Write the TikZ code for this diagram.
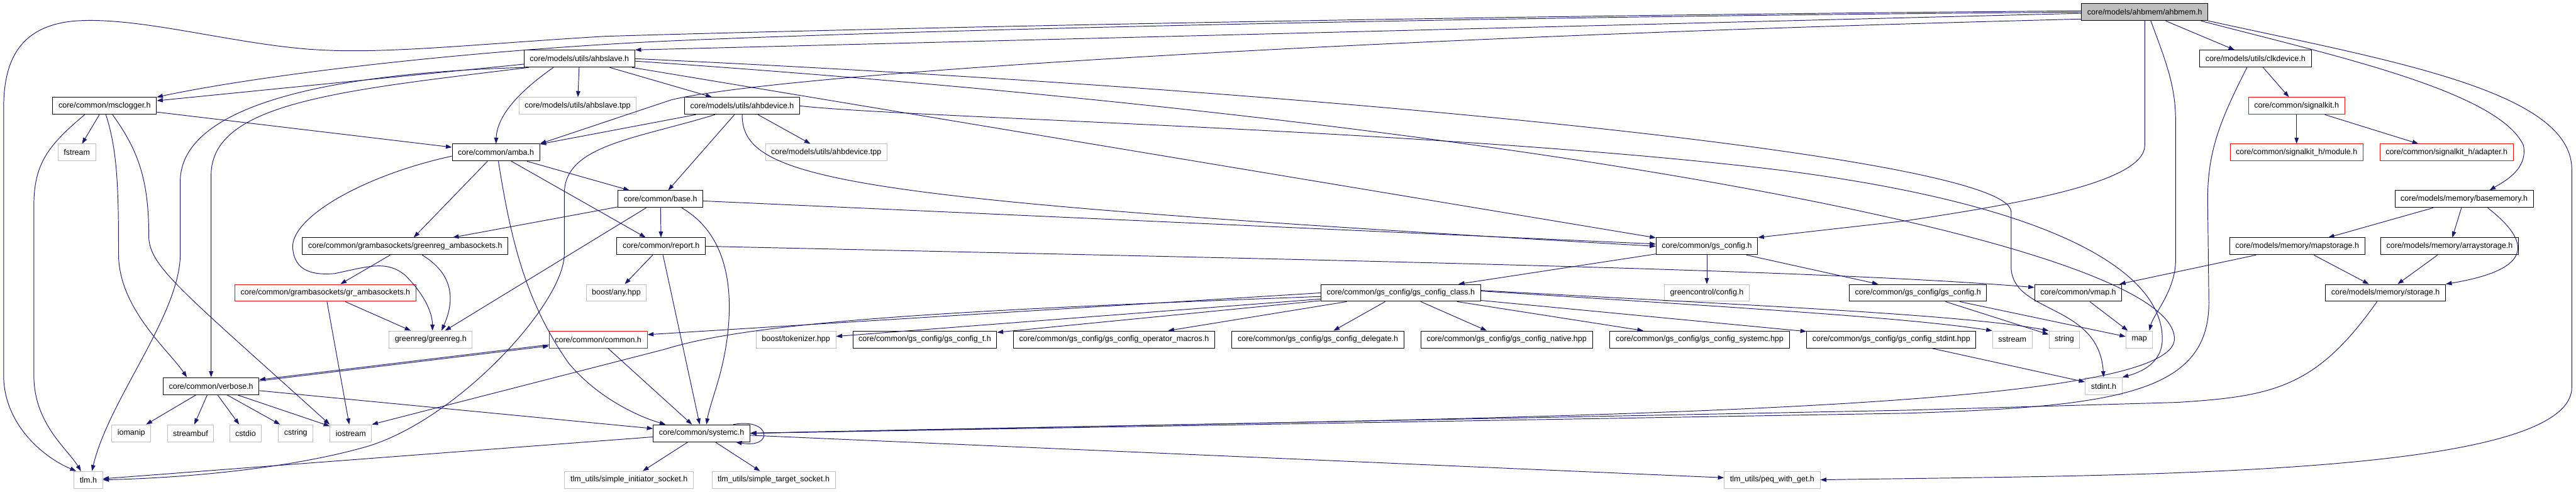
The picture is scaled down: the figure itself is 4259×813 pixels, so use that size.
\documentclass[tikz,border=0pt]{standalone}
\usepackage{fontspec}
\setmainfont{Liberation Sans}
\usepackage{tikz}
\usetikzlibrary{arrows.meta}
\definecolor{EdgeBlue}{RGB}{25,25,112}
\definecolor{LineGray}{RGB}{191,191,191}
\definecolor{RootFill}{RGB}{191,191,191}
\definecolor{CutRed}{RGB}{255,0,0}
\tikzset{
  file/.style={draw=black,line width=1pt,fill=white,minimum height=28pt,
               inner xsep=9.5pt,inner ysep=0pt,font=\fontsize{13}{15}\selectfont},
  sysfile/.style={file,draw=LineGray},
  cutfile/.style={file,draw=CutRed},
  rootfile/.style={file,fill=RootFill},
  dep/.style={draw=EdgeBlue,line width=1pt,-{Triangle[length=10pt,width=7pt]}}
}
\begin{document}
\begin{tikzpicture}[x=1pt,y=-1pt]
\useasboundingbox (0,0) rectangle (4259,813);

\node[rootfile] (ahbmem) at (3546,20) {core/models/ahbmem/ahbmem.h};
\node[file] (ahbslave) at (958,97) {core/models/utils/ahbslave.h};
\node[file] (clkdev) at (3729,97) {core/models/utils/clkdevice.h};
\node[file] (msclog) at (173,175) {core/common/msclogger.h};
\node[sysfile] (slavetpp) at (955,175) {core/models/utils/ahbslave.tpp};
\node[file] (ahbdev) at (1227,175) {core/models/utils/ahbdevice.h};
\node[cutfile] (sigkit) at (3797,175) {core/common/signalkit.h};
\node[sysfile] (fstream) at (127,252) {fstream};
\node[file] (amba) at (820,252) {core/common/amba.h};
\node[sysfile] (devtpp) at (1366,252) {core/models/utils/ahbdevice.tpp};
\node[cutfile] (sigmod) at (3797,252) {core/common/signalkit\_h/module.h};
\node[cutfile] (sigadp) at (4045,252) {core/common/signalkit\_h/adapter.h};
\node[file] (base) at (1092,329) {core/common/base.h};
\node[file] (basemem) at (4074,329) {core/models/memory/basememory.h};
\node[file] (grsock) at (670,407) {core/common/grambasockets/greenreg\_ambasockets.h};
\node[file] (report) at (1093,407) {core/common/report.h};
\node[file] (gscfg) at (2822,407) {core/common/gs\_config.h};
\node[file] (mapst) at (3798,407) {core/models/memory/mapstorage.h};
\node[file] (arrst) at (4050,407) {core/models/memory/arraystorage.h};
\node[cutfile] (grambs) at (538,484) {core/common/grambasockets/gr\_ambasockets.h};
\node[sysfile] (anyhpp) at (1019,484) {boost/any.hpp};
\node[file] (cfgclass) at (2316,484) {core/common/gs\_config/gs\_config\_class.h};
\node[sysfile] (gcconf) at (2822,484) {greencontrol/config.h};
\node[file] (cfgcfg) at (3171,484) {core/common/gs\_config/gs\_config.h};
\node[file] (vmap) at (3436,484) {core/common/vmap.h};
\node[file] (storage) at (3944,484) {core/models/memory/storage.h};
\node[sysfile] (greenreg) at (712,561) {greenreg/greenreg.h};
\node[cutfile] (common) at (989,561) {core/common/common.h};
\node[sysfile] (tokhpp) at (1316,561) {boost/tokenizer.hpp};
\node[file] (cfgt) at (1529,561) {core/common/gs\_config/gs\_config\_t.h};
\node[file] (cfgops) at (1842,561) {core/common/gs\_config/gs\_config\_operator\_macros.h};
\node[file] (cfgdel) at (2179,561) {core/common/gs\_config/gs\_config\_delegate.h};
\node[file] (cfgnat) at (2491,561) {core/common/gs\_config/gs\_config\_native.hpp};
\node[file] (cfgsysc) at (2810,561) {core/common/gs\_config/gs\_config\_systemc.hpp};
\node[file] (cfgstd) at (3127,561) {core/common/gs\_config/gs\_config\_stdint.hpp};
\node[sysfile] (sstream) at (3327,561) {sstream};
\node[sysfile] (string) at (3413,561) {string};
\node[sysfile] (map) at (3537,561) {map};
\node[file] (verbose) at (349,638) {core/common/verbose.h};
\node[sysfile] (stdint) at (3478,638) {stdint.h};
\node[sysfile] (iomanip) at (217,716) {iomanip};
\node[sysfile] (streambuf) at (315,716) {streambuf};
\node[sysfile] (cstdio) at (406,716) {cstdio};
\node[sysfile] (cstring) at (489,716) {cstring};
\node[sysfile] (iostream) at (580,716) {iostream};
\node[file] (systemc) at (1160,716) {core/common/systemc.h};
\node[sysfile] (tlm) at (146,793) {tlm.h};
\node[sysfile] (initsock) at (1040,793) {tlm\_utils/simple\_initiator\_socket.h};
\node[sysfile] (targsock) at (1279,793) {tlm\_utils/simple\_target\_socket.h};
\node[sysfile] (peq) at (2930,793) {tlm\_utils/peq\_with\_get.h};

% plain includes
\foreach \a/\b in {ahbmem/clkdev, ahbslave/msclog, ahbslave/slavetpp, ahbslave/ahbdev,
  ahbslave/gscfg, ahbdev/amba, ahbdev/devtpp, ahbdev/base, msclog/fstream, msclog/amba,
  amba/grsock, amba/report, amba/base, base/grsock, base/greenreg, base/report, base/gscfg,
  report/anyhpp, report/systemc, grsock/grambs, grambs/greenreg, grambs/iostream,
  common/systemc, verbose/iomanip, verbose/streambuf, verbose/cstdio, verbose/cstring,
  verbose/iostream, verbose/systemc, systemc/tlm, systemc/initsock, systemc/targsock,
  systemc/peq, clkdev/sigkit, sigkit/sigmod, sigkit/sigadp, basemem/mapst, basemem/arrst,
  mapst/vmap, mapst/storage, arrst/storage, vmap/map, gscfg/cfgclass, gscfg/gcconf,
  gscfg/cfgcfg, cfgcfg/string, cfgcfg/map, cfgclass/cfgt, cfgclass/cfgops, cfgclass/cfgdel,
  cfgclass/cfgnat, cfgclass/cfgsysc, cfgclass/cfgstd, cfgclass/tokhpp, cfgstd/stdint}
  \draw[dep] (\a) -- (\b);

% routed includes
\draw[dep] ([yshift=2pt]ahbmem.west) .. controls (2500,25) and (1500,45) .. (1000,60)
  .. controls (800,72) and (650,88) .. (540,83) .. controls (400,78) and (230,25) .. (120,35)
  .. controls (25,45) and (6,110) .. (6,180) -- (6,620) .. controls (6,700) and (70,755) .. ([xshift=4pt]tlm.north west);
\draw[dep] (ahbmem.west) .. controls (2400,28) and (1500,50) .. (1100,68)
  .. controls (800,82) and (450,120) .. (msclog.north east);
\draw[dep] ([yshift=-2pt]ahbmem.west) -- (ahbslave.north east);
\draw[dep] ([yshift=3pt]ahbmem.south west) .. controls (2300,60) and (1300,120) .. (1110,165) -- (amba.north east);
\draw[dep] (ahbmem.south) -- (3546,240) .. controls (3546,300) and (3350,335) .. (3150,365) -- (gscfg.north east);
\draw[dep] ([xshift=10pt]ahbmem.south) .. controls (3580,100) and (3597,140) .. (3597,200) -- (3597,430)
  .. controls (3597,480) and (3560,520) .. ([xshift=-6pt]map.north east);
\draw[dep] ([xshift=-12pt]ahbmem.south east) .. controls (3850,90) and (4130,150) .. (4172,240)
  .. controls (4180,280) and (4140,300) .. ([xshift=42pt]basemem.north);
\draw[dep] (ahbmem.south east) .. controls (3950,100) and (4252,150) .. (4252,280) -- (4252,640)
  .. controls (4252,790) and (3500,785) .. (peq.east);

\draw[dep] ([xshift=2pt]ahbslave.south west) .. controls (560,120) and (298,170) .. (298,300) -- (298,420)
  .. controls (298,520) and (180,660) .. ([xshift=6pt]tlm.north);
\draw[dep] ([xshift=8pt]ahbslave.south west) .. controls (560,150) and (349,170) .. (349,290) -- (verbose.north);
\draw[dep] ([xshift=-43pt]ahbslave.south) .. controls (860,150) and (822,190) .. (amba.north);
\draw[dep] (ahbslave.east) .. controls (2200,150) and (3325,260) .. (3325,350) -- (3325,440)
  .. controls (3325,520) and (3470,500) .. (stdint.north);
\draw[dep] ([yshift=-4pt]ahbslave.east) .. controls (2500,200) and (3595,400) .. (3595,560)
  .. controls (3595,690) and (2400,690) .. (systemc.east);

\draw[dep] (ahbdev.south) .. controls (1227,300) and (1400,330) .. (gscfg.west);
\draw[dep] ([xshift=-45pt]ahbdev.south) .. controls (1050,230) and (933,240) .. (933,320) -- (933,420)
  .. controls (933,500) and (760,690) .. (610,737) .. controls (480,775) and (300,790) .. (tlm.east);
\draw[dep] (ahbdev.east) .. controls (1500,195) and (2400,215) .. (2950,282)
  .. controls (3400,340) and (3575,450) .. (3575,560) .. controls (3575,600) and (3540,615) .. (stdint.north east);

\draw[dep] ([xshift=-33pt]msclog.south) .. controls (80,240) and (56,270) .. (56,340) -- (56,620)
  .. controls (56,700) and (110,740) .. ([xshift=-12pt]tlm.north);
\draw[dep] ([xshift=2pt]msclog.south) .. controls (195,250) and (196,320) .. (196,420)
  .. controls (196,510) and (280,580) .. ([xshift=-40pt]verbose.north);
\draw[dep] ([xshift=13pt]msclog.south) .. controls (230,250) and (246,300) .. (246,390)
  .. controls (246,440) and (300,480) .. (iostream.north west);

\draw[dep] ([yshift=-6pt]amba.west) .. controls (600,290) and (480,360) .. (484,410)
  .. controls (487,450) and (520,455) .. (554,452) .. controls (610,440) and (640,430) .. (670,455)
  .. controls (705,490) and (715,520) .. ([xshift=3pt]greenreg.north);
\draw[dep] ([xshift=4pt]amba.south) .. controls (845,400) and (870,500) .. (940,600)
  .. controls (990,660) and (1060,690) .. ([xshift=21pt]systemc.north west);
\draw[dep] ([xshift=35pt]base.south) .. controls (1190,380) and (1210,450) .. (1205,530)
  .. controls (1200,610) and (1175,660) .. ([xshift=8pt]systemc.north);
\draw[dep] ([xshift=28pt]grsock.south) .. controls (745,450) and (755,490) .. ([xshift=18pt]greenreg.north);
\draw[dep] (report.east) .. controls (2200,430) and (3000,445) .. ([yshift=9pt]vmap.west);

\draw[dep] (cfgclass.west) -- ([yshift=8pt]common.east);
\draw[dep] ([yshift=-6pt]cfgclass.west) .. controls (1600,512) and (1250,530) .. (1100,577) -- (iostream.north east);
\draw[dep] ([yshift=3pt]cfgclass.east) .. controls (2900,510) and (3150,525) .. (sstream.north west);
\draw[dep] ([yshift=4pt]cfgclass.east) .. controls (2900,505) and (3250,520) .. (string.north west);

\draw[dep,transform canvas={yshift=1pt}] (common) -- (verbose);
\draw[dep,transform canvas={yshift=-1pt}] (verbose) -- (common);
\draw[dep] ([xshift=-28pt]systemc.north east) .. controls (1275,690) and (1280,742) .. ([xshift=-24pt]systemc.south east);

\draw[dep] ([xshift=-14pt]clkdev.south) .. controls (3670,200) and (3650,250) .. (3650,330) -- (3652,500)
  .. controls (3652,650) and (3500,672) .. (3150,683) -- (systemc.east);
\draw[dep] ([xshift=-14pt]storage.south) .. controls (3830,640) and (3760,655) .. (3600,665)
  -- (3150,678) -- (systemc.east);
\draw[dep] ([xshift=39pt]basemem.south) .. controls (4185,400) and (4190,445) .. (storage.north east);
\end{tikzpicture}
\end{document}
